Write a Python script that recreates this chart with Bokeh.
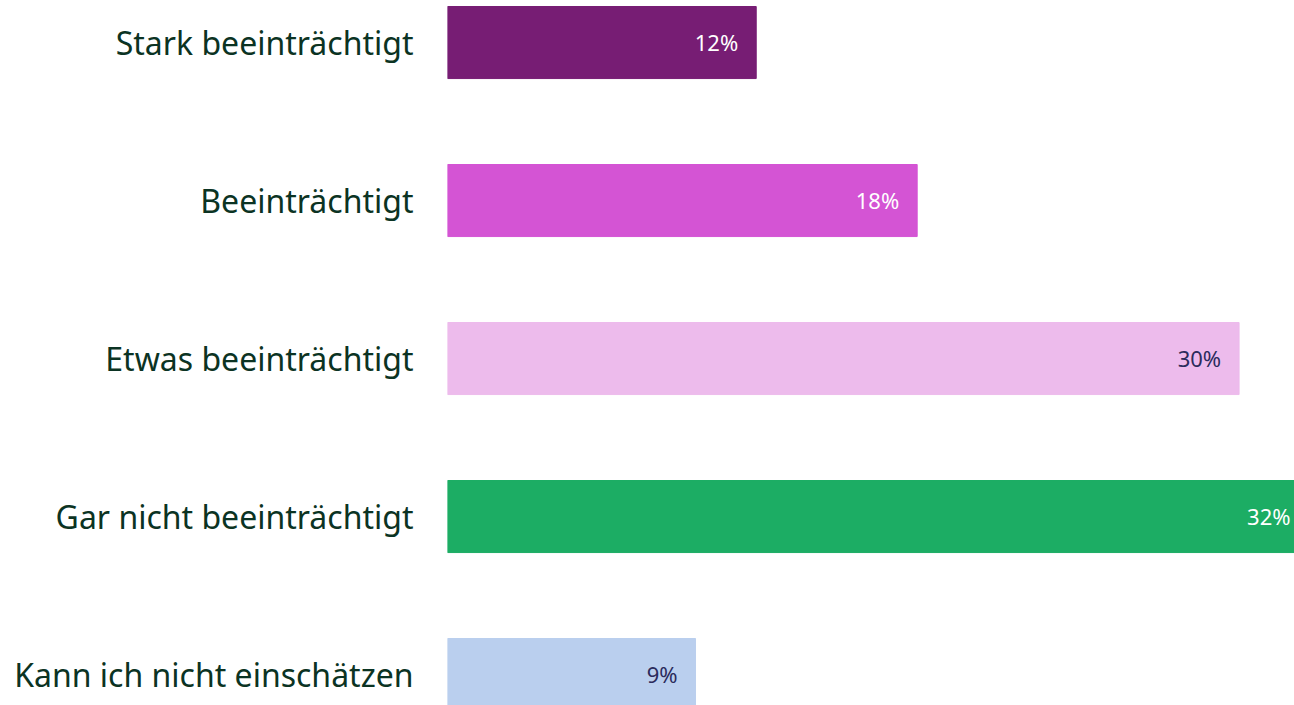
from bokeh.plotting import figure
from bokeh.models import ColumnDataSource, Range1d, FixedTicker
from bokeh.core.properties import value
from bokeh.embed import file_html
from bokeh.resources import INLINE

categories = ["Stark beeinträchtigt", "Beeinträchtigt", "Etwas beeinträchtigt",
              "Gar nicht beeinträchtigt", "Kann ich nicht einschätzen"]
values = [11.7, 17.8, 30.0, 32.1, 9.4]
labels = ["12%", "18%", "30%", "32%", "9%"]
colors = ["#771D74", "#D454D4", "#EDBBEC", "#1CAD64", "#BACFEE"]
label_colors = ["#FFFFFF", "#FFFFFF", "#2B2B5C", "#FFFFFF", "#2B2B5C"]
label_insets = [-18, -18, -18, -4, -18]

pos = list(range(len(categories)))
src = ColumnDataSource(dict(y=pos, v=values, c=colors, lab=labels, lc=label_colors,
                            off=label_insets))

p = figure(width=1294, height=705, output_backend="svg", toolbar_location=None,
           x_range=Range1d(0, 32.1), y_range=Range1d(4.196, -0.266),
           min_border_left=447, min_border_right=0, min_border_top=0, min_border_bottom=0)
p.styles = {"position": "absolute", "left": "0px", "top": "0px"}
p.outline_line_color = None
p.grid.visible = False
p.xaxis.visible = False

p.hbar(y="y", left=0, right="v", height=0.456, color="c", source=src)
p.text(x="v", y="y", text="lab", text_color="lc", source=src,
       text_align="right", text_baseline="middle", x_offset="off", y_offset=-1,
       text_font=value("Noto Sans"), text_font_size="22px")

ya = p.yaxis[0]
ya.ticker = FixedTicker(ticks=pos)
ya.major_label_overrides = {i: c for i, c in enumerate(categories)}
ya.axis_line_color = None
ya.major_tick_line_color = None
ya.minor_tick_line_color = None
ya.major_label_standoff = 28
ya.major_label_text_font = "Noto Sans"
ya.major_label_text_font_size = "32px"
ya.major_label_text_color = "#0B3323"

open("out.html", "w").write(file_html(p, INLINE))
